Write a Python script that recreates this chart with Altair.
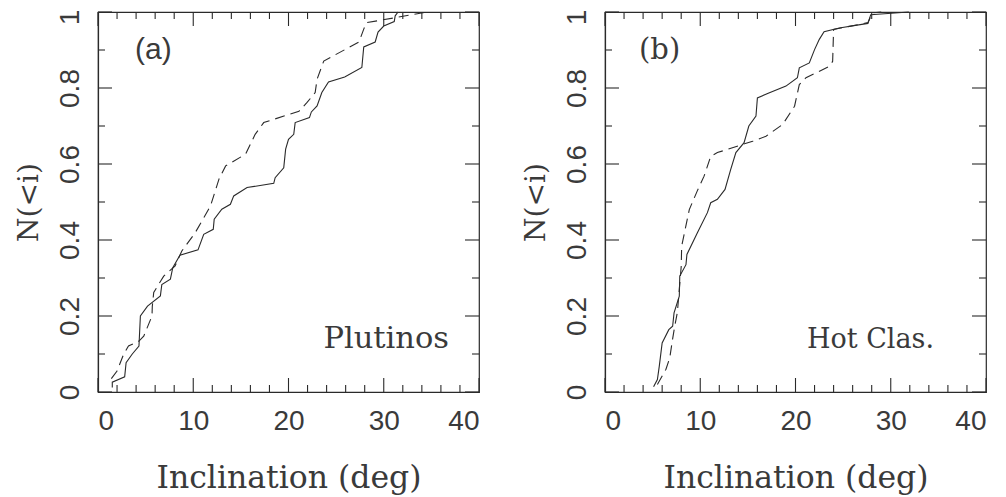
import altair as alt
import pandas as pd

# tick positions
x_major = [0, 10, 20, 30, 40]
x_minor = [2, 4, 6, 8, 12, 14, 16, 18, 22, 24, 26, 28, 32, 34, 36, 38]
y_major = [0, 0.2, 0.4, 0.6, 0.8, 1.0]
y_minor = [0.1, 0.3, 0.5, 0.7, 0.9]

# Panel (a) Plutinos
a_solid_i = [1.5, 1.5, 2.8, 2.95, 3.6, 4.3, 4.45, 5.2, 6.55, 6.7, 7.6, 7.85, 8.6, 10.5, 11.1, 12.1, 12.2,
             13.0, 13.9, 14.25, 15.65, 18.45, 18.6, 19.5, 19.7, 20.0, 20.55, 20.7, 22.2, 22.4, 23.0, 23.5,
             24.2, 25.9, 27.7, 27.9, 29.1, 29.4, 30.0, 31.1, 31.2, 31.5]
a_solid_n = [0.012, 0.026, 0.04, 0.077, 0.10, 0.121, 0.20, 0.226, 0.253, 0.283, 0.297, 0.327, 0.36, 0.374,
             0.415, 0.428, 0.455, 0.481, 0.494, 0.516, 0.538, 0.549, 0.564, 0.59, 0.639, 0.665, 0.678, 0.709,
             0.722, 0.737, 0.753, 0.788, 0.816, 0.829, 0.854, 0.908, 0.921, 0.947, 0.963, 0.975, 0.99, 1.0]
a_dash_i = [1.4, 2.0, 2.7, 3.2, 4.3, 4.8, 5.67, 5.7, 5.85, 6.9, 8.1, 8.8, 10.2, 11.8, 12.7, 13.4, 15.5, 16.5,
            17.4, 21.1, 21.95, 22.8, 23.0, 23.7, 27.4, 27.9, 28.2, 31.2, 34.5]
a_dash_n = [0.035, 0.055, 0.10, 0.121, 0.134, 0.147, 0.20, 0.225, 0.262, 0.305, 0.332, 0.371, 0.419, 0.489,
            0.56, 0.595, 0.626, 0.678, 0.709, 0.739, 0.762, 0.788, 0.823, 0.871, 0.921, 0.955, 0.972, 0.985, 1.0]

# Panel (b) Hot Classicals
b_solid_i = [5.1, 5.5, 5.7, 6.0, 6.7, 7.1, 7.25, 7.8, 7.85, 8.5, 8.6, 9.7, 10.75, 11.1, 11.8, 12.6, 13.2,
             13.74, 14.6, 15.1, 15.85, 16.0, 17.2, 19.0, 20.2, 20.4, 21.45, 22.0, 22.5, 23.0, 24.6, 27.6,
             27.9, 31.9]
b_solid_n = [0.014, 0.033, 0.068, 0.129, 0.164, 0.173, 0.208, 0.252, 0.305, 0.335, 0.362, 0.419, 0.472,
             0.498, 0.507, 0.533, 0.586, 0.63, 0.656, 0.70, 0.726, 0.774, 0.787, 0.805, 0.827, 0.853, 0.866,
             0.901, 0.928, 0.948, 0.958, 0.97, 0.993, 1.0]
b_dash_i = [5.5, 6.4, 6.8, 7.1, 7.3, 7.6, 7.8, 8.0, 8.05, 8.85, 9.7, 10.4, 11.1, 11.8, 15.5, 16.9, 18.65,
            19.9, 20.4, 21.1, 23.55, 23.9, 24.0, 27.6, 28.1, 29.0]
b_dash_n = [0.02, 0.06, 0.09, 0.14, 0.17, 0.21, 0.27, 0.33, 0.384, 0.48, 0.53, 0.568, 0.62, 0.63, 0.66,
            0.673, 0.704, 0.752, 0.809, 0.827, 0.857, 0.87, 0.954, 0.972, 0.998, 1.0]

W, H = 381, 380
INK = "#2a2a2a"
TXT = "#3a3a3a"
SANS = "Liberation Sans"
SERIF = "DejaVu Serif"

xs = alt.Scale(domain=[0, 40], nice=False, zero=False)
ys = alt.Scale(domain=[0, 1], nice=False, zero=False)

X_AXIS = alt.Axis(values=x_major, format="d", ticks=False, grid=False, domain=True,
                  domainColor=INK, domainWidth=1.2,
                  labelFont=SANS, labelFontSize=28, labelColor=TXT, labelPadding=15,
                  title="Inclination (deg)", titleFont=SERIF, titleFontSize=31.5,
                  titleFontWeight="normal", titleColor=TXT, titlePadding=27)
Y_AXIS = alt.Axis(values=y_major, format="~g", ticks=False, grid=False, domain=True,
                  domainColor=INK, domainWidth=1.2,
                  labelFont=SANS, labelFontSize=28, labelColor=TXT, labelPadding=14,
                  labelAngle=270, labelAlign="center", labelBaseline="bottom",
                  labelOffset={"condition": {"test": "datum.value == 1", "value": 5}, "value": 0},
                  title="N(<i)", titleFont=SERIF, titleFontSize=28,
                  titleFontWeight="normal", titleColor=TXT, titlePadding=13)


def X(field="i"):
    return alt.X(f"{field}:Q", scale=xs, axis=X_AXIS)


def Y(field="n"):
    return alt.Y(f"{field}:Q", scale=ys, axis=Y_AXIS)


def line_df(iv, nv):
    return pd.DataFrame({"i": iv, "n": nv, "k": list(range(len(iv)))})


def panel(s_i, s_n, d_i, d_n, tag, tag_font, tag_size, name, name_size, tag_x, name_x):
    solid = alt.Chart(line_df(s_i, s_n)).mark_line(color=INK, strokeWidth=1.1).encode(
        x=X(), y=Y(), order="k:Q")
    dashed = alt.Chart(line_df(d_i, d_n)).mark_line(
        color=INK, strokeWidth=1.1, strokeDash=[10, 6]).encode(x=X(), y=Y(), order="k:Q")

    layers = [solid, dashed]
    for vals, ln in ((x_major, 14), (x_minor, 7)):
        df = pd.DataFrame({"i": vals})
        layers.append(alt.Chart(df).mark_rule(color=INK, strokeWidth=1.1).encode(
            x=X(), y=alt.value(H), y2=alt.value(H - ln)))
        layers.append(alt.Chart(df).mark_rule(color=INK, strokeWidth=1.1).encode(
            x=X(), y=alt.value(0), y2=alt.value(ln)))
    for vals, ln in ((y_major, 14), (y_minor, 7)):
        df = pd.DataFrame({"n": vals})
        layers.append(alt.Chart(df).mark_rule(color=INK, strokeWidth=1.1).encode(
            y=Y(), x=alt.value(0), x2=alt.value(ln)))
        layers.append(alt.Chart(df).mark_rule(color=INK, strokeWidth=1.1).encode(
            y=Y(), x=alt.value(W), x2=alt.value(W - ln)))

    layers.append(alt.Chart(pd.DataFrame({"t": [tag]})).mark_text(
        align="left", baseline="middle", font=tag_font, fontSize=tag_size, color=TXT).encode(
        x=alt.value(tag_x), y=alt.value(38), text="t:N"))
    layers.append(alt.Chart(pd.DataFrame({"t": [name]})).mark_text(
        align="right", baseline="alphabetic", font=SERIF, fontSize=name_size, color=TXT).encode(
        x=alt.value(name_x), y=alt.value(336), text="t:N"))

    return alt.layer(*layers).properties(width=W, height=H)


pa = panel(a_solid_i, a_solid_n, a_dash_i, a_dash_n, "(a)", SANS, 30, "Plutinos", 30.5, 37, 351)
pb = panel(b_solid_i, b_solid_n, b_dash_i, b_dash_n, "(b)", SERIF, 29, "Hot Clas.", 27, 34, 329)

chart = alt.hconcat(pa, pb, spacing=40).properties(
    padding={"left": 6, "top": 0, "right": 0, "bottom": 0}
).configure(background="white").configure_view(stroke=INK, strokeWidth=1.2)

chart.save("out.html", embed_options={"renderer": "svg", "actions": False})
